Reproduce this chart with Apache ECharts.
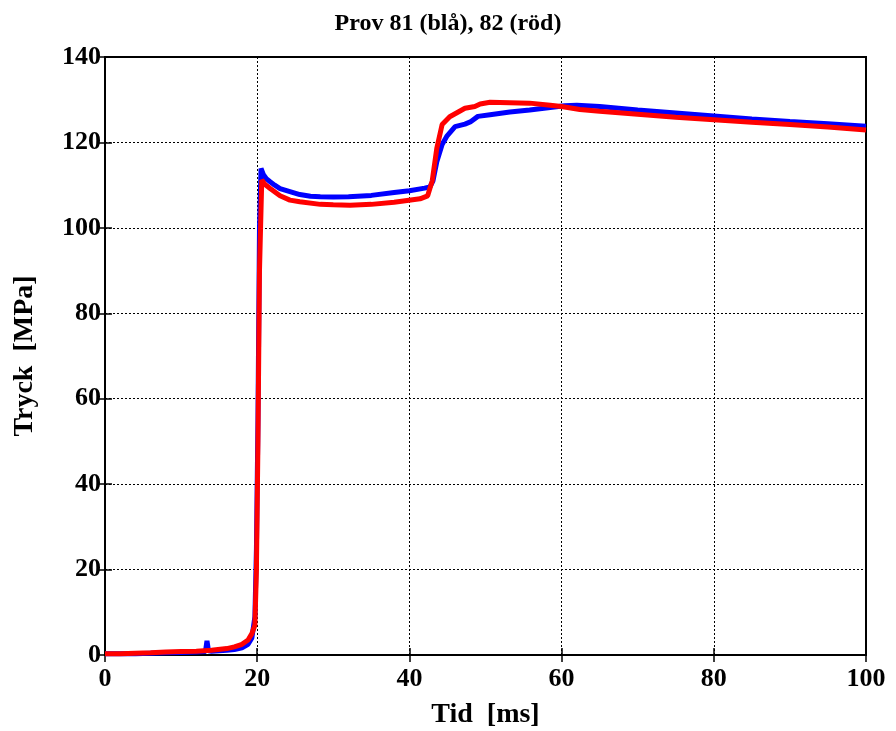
<!DOCTYPE html>
<html>
<head>
<meta charset="utf-8">
<script src="https://cdn.jsdelivr.net/npm/echarts@6/dist/echarts.min.js"></script>
<style>html,body{margin:0;padding:0;background:#fff;}#c{width:896px;height:731px;}</style>
</head>
<body>
<div id="c"></div>
<script>
var titleText = 'Prov 81 (blå), 82 (röd)';
var xName = 'Tid  [ms]';
var yName = 'Tryck  [MPa]';
var xTicks = [0, 20, 40, 60, 80, 100];
var yTicks = [0, 20, 40, 60, 80, 100, 120, 140];

var blueT = [0,2,4,6,8,10,12,13.2,13.4,13.6,14,15,16,17,18,18.8,19.3,19.7,19.9,20.1,20.3,20.5,20.8,21.2,21.7,22.3,23,24.3,25.6,27,28.3,30,32,35,38,40,42,42.7,43.1,43.6,44.3,44.9,46,47.3,48,49,50.6,53.2,55.8,58.5,60.4,62,65,70,75,80,85,90,95,100];
var blueP = [0.3,0.3,0.3,0.4,0.5,0.6,0.7,0.8,3.3,1.0,0.9,1.0,1.1,1.3,1.7,2.5,4,9,25,55,100,113.9,112.5,111.5,110.8,110,109.2,108.5,107.8,107.4,107.3,107.2,107.3,107.6,108.3,108.7,109.3,109.6,111,115.5,119.5,121.4,123.7,124.3,124.8,126.1,126.5,127.1,127.6,128.2,128.6,128.7,128.4,127.6,126.9,126.2,125.5,124.9,124.4,123.8];

var redT = [0,2,4,6,8,10,12,14,16,17,18,18.8,19.3,19.7,19.9,20.1,20.3,20.6,21,21.7,23,24.3,25.6,28.3,30,32.2,35,38,41.4,42.4,43,43.6,44.3,45.3,46.3,47.3,48.6,49.3,50.6,53.2,55.8,58.5,60,62.4,65,70,75,80,85,90,95,100];
var redP = [0.3,0.3,0.4,0.5,0.7,0.8,0.9,1.1,1.5,1.9,2.5,3.5,5,7,20,50,90,111.2,110.2,109.2,107.5,106.5,106.1,105.5,105.4,105.3,105.5,106,106.8,107.5,111,118.6,124.2,126,127,128,128.4,129,129.4,129.3,129.2,128.7,128.4,127.7,127.3,126.6,125.9,125.3,124.7,124.2,123.6,122.9];

function pairs(t, p) { return t.map(function (v, i) { return [v, p[i]]; }); }

var font = '"Liberation Serif", "Times New Roman", serif';
var chart = echarts.init(document.getElementById('c'));
chart.setOption({
  animation: false,
  backgroundColor: '#fff',
  title: {
    text: titleText, left: 'center', top: 7,
    textStyle: { fontFamily: font, fontWeight: 'bold', fontSize: 24, color: '#000' }
  },
  grid: { left: 105, right: 30, top: 57, bottom: 76, containLabel: false, outerBoundsMode: 'none', show: true, borderColor: '#000', borderWidth: 2, backgroundColor: '#fff' },
  xAxis: [{
    type: 'value', min: xTicks[0], max: xTicks[xTicks.length - 1], interval: 20,
    name: xName, nameLocation: 'middle', nameGap: 46,
    nameTextStyle: { fontFamily: font, fontWeight: 'bold', fontSize: 28, color: '#000' },
    axisLine: { show: true, lineStyle: { color: '#000', width: 2 } },
    axisTick: { show: true, inside: true, length: 7, lineStyle: { color: '#000', width: 1.5 } },
    axisLabel: { fontFamily: font, fontWeight: 'bold', fontSize: 26, color: '#000', margin: 11 },
    splitLine: { show: true, lineStyle: { color: '#000', type: [2, 2], width: 1 } }
  }, {
    type: 'value', position: 'top', min: 0, max: 100, interval: 20,
    axisLine: { show: true, lineStyle: { color: '#000', width: 2 } },
    axisTick: { show: true, inside: true, length: 7, lineStyle: { color: '#000', width: 1.5 } },
    axisLabel: { show: false }, splitLine: { show: false }
  }],
  yAxis: [{
    type: 'value', min: yTicks[0], max: yTicks[yTicks.length - 1], interval: 20,
    name: yName, nameLocation: 'middle', nameGap: 66, nameRotate: 90,
    nameTextStyle: { fontFamily: font, fontWeight: 'bold', fontSize: 28, color: '#000' },
    axisLine: { show: true, lineStyle: { color: '#000', width: 2 } },
    axisTick: { show: true, inside: true, length: 7, lineStyle: { color: '#000', width: 1.5 } },
    axisLabel: { fontFamily: font, fontWeight: 'bold', fontSize: 26, color: '#000', margin: 4 },
    splitLine: { show: true, lineStyle: { color: '#000', type: [2, 2], width: 1 } }
  }, {
    type: 'value', position: 'right', min: 0, max: 140, interval: 20,
    axisLine: { show: true, lineStyle: { color: '#000', width: 2 } },
    axisTick: { show: true, inside: true, length: 7, lineStyle: { color: '#000', width: 1.5 } },
    axisLabel: { show: false }, splitLine: { show: false }
  }],
  series: [{
    type: 'line', name: '81', data: pairs(blueT, blueP), showSymbol: false, symbol: 'none',
    lineStyle: { color: '#0000ff', width: 5 }, z: 3
  }, {
    type: 'line', name: '82', data: pairs(redT, redP), showSymbol: false, symbol: 'none',
    lineStyle: { color: '#ff0000', width: 5 }, z: 4
  }]
});
</script>
</body>
</html>
